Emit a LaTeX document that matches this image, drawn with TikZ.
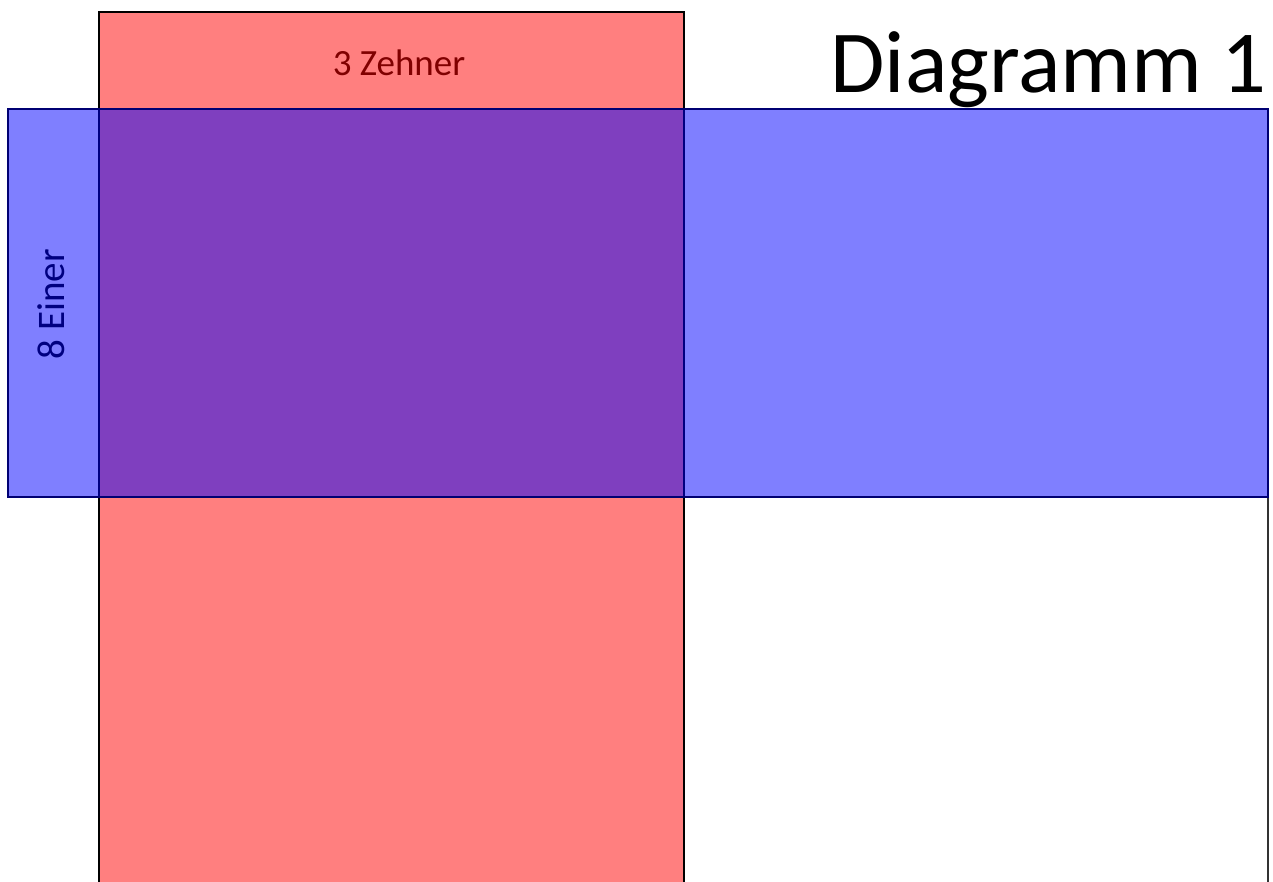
\documentclass[tikz,border=0pt]{standalone}
\usepackage{fontspec}
\setmainfont{Carlito}
\begin{document}
\begin{tikzpicture}[x=1pt,y=-1pt,
  redrect/.style={fill=red,fill opacity=0.5,draw=black,line width=1.8pt},
  bluerect/.style={fill=blue,fill opacity=0.5,draw=black!55!blue,draw opacity=1,line width=1.8pt},
  lbl/.style={inner sep=0pt}]
\useasboundingbox (0,0) rectangle (1273,881);
\begin{scope}
\clip (0,0) rectangle (1273,881);
\draw[draw=black!80,line width=1.8pt] (684,497) rectangle (1268,900);
\draw[redrect] (99,12) rectangle (684,900);
\draw[bluerect] (8,109) rectangle (1268,497);
\end{scope}
\node[lbl,text=red!50!black,font=\fontsize{37}{44}\selectfont] (zehner) at (399,63) {3 Zehner};
\node[lbl,text=blue!50!black,rotate=90,font=\fontsize{39}{46}\selectfont] (einer) at (51,304) {8 Einer};
\node[inner sep=0pt,anchor=base east,font=\fontsize{88.5}{100}\selectfont] (title) at (1267,92) {Diagramm 1};
\end{tikzpicture}
\end{document}
